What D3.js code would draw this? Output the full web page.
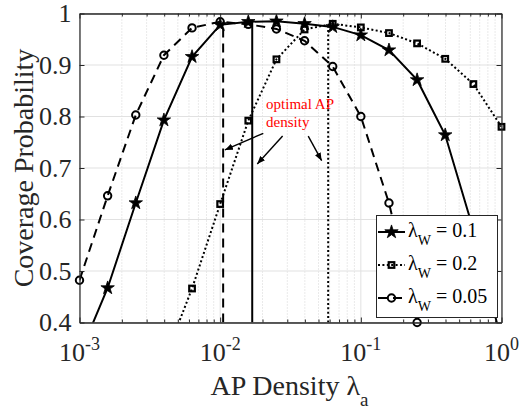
<!DOCTYPE html>
<html><head><meta charset="utf-8">
<script src="https://cdn.jsdelivr.net/npm/d3@7"></script>
<style>
body{margin:0;background:#fff}
svg{display:block}
text{font-family:"Liberation Serif","Times New Roman",serif;}
</style>
</head><body><svg id="c" width="522" height="409"></svg>
<script>
// ---- data ----
const densities = [1e-3, 1.585e-3, 2.512e-3, 3.981e-3, 6.310e-3, 1e-2, 1.585e-2, 2.512e-2, 3.981e-2, 6.310e-2, 0.1, 0.1585, 0.2512, 0.3981, 0.6310, 1];
const covW010 = [0.337, 0.467, 0.632, 0.793, 0.916, 0.978, 0.984, 0.985, 0.980, 0.974, 0.958, 0.929, 0.871, 0.764, 0.580, 0.364];
const covW020 = [null, null, null, 0.325, 0.466, 0.630, 0.792, 0.911, 0.969, 0.980, 0.973, 0.962, 0.942, 0.912, 0.863, 0.780];
const covW005 = [0.482, 0.646, 0.803, 0.919, 0.972, 0.984, 0.979, 0.970, 0.947, 0.897, 0.800, 0.632, 0.400, null, null, null];
const seriesNames = ["0.1", "0.2", "0.05"];
const optimalDensity = [0.0169, 0.0586, 0.0105];
const optimalCoverage = [0.985, 0.980, 0.984];
const xTicks = [1e-3, 1e-2, 1e-1, 1];
const xTickExp = ["-3", "-2", "-1", "0"];
const yTicks = [0.4, 0.5, 0.6, 0.7, 0.8, 0.9, 1];
const yTickLabels = ["0.4", "0.5", "0.6", "0.7", "0.8", "0.9", "1"];
const annotText = ["optimal AP", "density"];
const annotPos = [0.0212, 0.815];
const arrowFrom = [[0.02025, 0.7674], [0.0278, 0.762], [0.04227, 0.762]];
const arrowTo = [[0.01081, 0.735], [0.01835, 0.7078], [0.05266, 0.7142]];

// ---- layout ----
const L = 79.5, R = 501.5, T = 13.5, B = 322.5;
const axisColor = "#262626";
const svg = d3.select("#c");
const x = d3.scaleLog().domain([1e-3, 1]).range([L, R]);
const y = d3.scaleLinear().domain([0.4, 1]).range([B, T]);

const minorX = [];
for (let e = -3; e < 0; e++) for (let m = 2; m <= 9; m++) minorX.push(m * Math.pow(10, e));

// grid
const grid = svg.append("g");
grid.selectAll(".mx").data(minorX).join("line")
  .attr("x1", d => x(d)).attr("x2", d => x(d)).attr("y1", T).attr("y2", B)
  .attr("stroke", "#d4d4d4").attr("stroke-width", 1).attr("stroke-dasharray", "1,2");
grid.selectAll(".gx").data(xTicks).join("line")
  .attr("x1", d => x(d)).attr("x2", d => x(d)).attr("y1", T).attr("y2", B)
  .attr("stroke", "#e1e1e1").attr("stroke-width", 1);
grid.selectAll(".gy").data(yTicks).join("line")
  .attr("x1", L).attr("x2", R).attr("y1", d => y(d)).attr("y2", d => y(d))
  .attr("stroke", "#e1e1e1").attr("stroke-width", 1);

// clip
svg.append("clipPath").attr("id", "clip").append("rect")
  .attr("x", L).attr("y", T).attr("width", R - L).attr("height", B - T);

// arrowhead marker
svg.append("defs").append("marker").attr("id", "ah")
  .attr("viewBox", "0 0 10 10").attr("refX", 10).attr("refY", 5)
  .attr("markerWidth", 8).attr("markerHeight", 8).attr("markerUnits", "userSpaceOnUse")
  .attr("orient", "auto")
  .append("path").attr("d", "M0,1 L10,5 L0,9 z").attr("fill", "#000");

// series definitions
const series = [
  { vals: covW010, dash: null, marker: "star" },
  { vals: covW020, dash: "2,2.4", marker: "square" },
  { vals: covW005, dash: "9,6", marker: "circle" }
];

const plot = svg.append("g").attr("clip-path", "url(#clip)");
// vertical optimal lines
series.forEach((s, i) => {
  plot.append("line")
    .attr("x1", x(optimalDensity[i])).attr("x2", x(optimalDensity[i]))
    .attr("y1", y(0.4)).attr("y2", y(optimalCoverage[i]))
    .attr("stroke", "#000").attr("stroke-width", 2)
    .attr("stroke-dasharray", s.dash);
});

const line = d3.line().defined(d => d[1] != null).x(d => x(d[0])).y(d => y(d[1]));
series.forEach(s => {
  const pts = densities.map((d, i) => [d, s.vals[i]]);
  plot.append("path").attr("d", line(pts)).attr("fill", "none")
    .attr("stroke", "#000").attr("stroke-width", 2)
    .attr("stroke-dasharray", s.dash);
});

function drawMarker(g, type, cx, cy) {
  if (type === "star") {
    g.append("path").attr("d", d3.symbol(d3.symbolStar, 56)())
      .attr("transform", `translate(${cx},${cy})`).attr("fill", "#000").attr("stroke", "#000").attr("stroke-width", 0.8);
  } else if (type === "square") {
    g.append("rect").attr("x", cx - 2.8).attr("y", cy - 2.8).attr("width", 5.6).attr("height", 5.6)
      .attr("fill", "none").attr("stroke", "#000").attr("stroke-width", 2.2);
  } else {
    g.append("circle").attr("cx", cx).attr("cy", cy).attr("r", 3.7)
      .attr("fill", "none").attr("stroke", "#000").attr("stroke-width", 2);
  }
}
const mk = svg.append("g");
series.forEach(s => {
  densities.forEach((d, i) => {
    const v = s.vals[i];
    if (v == null || v < 0.399 || v > 1) return;
    drawMarker(mk, s.marker, x(d), y(v));
  });
});

// axes (inside ticks, box)
function styleAxis(g) {
  g.selectAll("path.domain").attr("stroke", axisColor).attr("stroke-width", 1.2);
  g.selectAll(".tick line").attr("stroke", axisColor).attr("stroke-width", 1);
}
svg.append("g").attr("transform", `translate(0,${B})`)
  .call(d3.axisBottom(x).tickValues(minorX).tickSize(-3).tickSizeOuter(0).tickFormat("")).call(styleAxis);
svg.append("g").attr("transform", `translate(0,${T})`)
  .call(d3.axisTop(x).tickValues(minorX).tickSize(-3).tickSizeOuter(0).tickFormat("")).call(styleAxis);
svg.append("g").attr("transform", `translate(0,${B})`)
  .call(d3.axisBottom(x).tickValues(xTicks).tickSize(-5).tickSizeOuter(0).tickFormat("")).call(styleAxis);
svg.append("g").attr("transform", `translate(0,${T})`)
  .call(d3.axisTop(x).tickValues(xTicks).tickSize(-5).tickSizeOuter(0).tickFormat("")).call(styleAxis);
svg.append("g").attr("transform", `translate(${R},0)`)
  .call(d3.axisRight(y).tickValues(yTicks).tickSize(-5).tickSizeOuter(0).tickFormat("")).call(styleAxis);
const yAx = svg.append("g").attr("transform", `translate(${L},0)`)
  .call(d3.axisLeft(y).tickValues(yTicks).tickSize(-5).tickSizeOuter(0).tickPadding(8)
    .tickFormat((d, i) => yTickLabels[i])).call(styleAxis);
yAx.selectAll("text").attr("font-size", 26).attr("fill", axisColor)
  .attr("font-family", "'Liberation Serif','Times New Roman',serif");

// x tick labels with superscripts
const xl = svg.append("g");
xTicks.forEach((d, i) => {
  const t = xl.append("text").attr("x", x(d)).attr("y", 361).attr("text-anchor", "middle")
    .attr("fill", axisColor).attr("font-size", 26);
  t.append("tspan").text("10");
  t.append("tspan").attr("dy", -11).attr("font-size", 18).text(xTickExp[i]);
});

// axis labels
const xlab = svg.append("text").attr("x", (L + R) / 2 - 1).attr("y", 395).attr("text-anchor", "middle")
  .attr("fill", axisColor).attr("font-size", 28);
xlab.append("tspan").text("AP Density λ");
xlab.append("tspan").attr("dy", 11).attr("font-size", 19).text("a");

svg.append("text").attr("transform", `translate(33,${(T + B) / 2}) rotate(-90)`)
  .attr("text-anchor", "middle").attr("fill", axisColor).attr("font-size", 28)
  .text("Coverage Probability");

// annotation
const at = svg.append("text").attr("x", x(annotPos[0])).attr("y", y(annotPos[1]))
  .attr("fill", "#ff0000").attr("font-size", 15);
at.append("tspan").attr("x", x(annotPos[0])).text(annotText[0]);
at.append("tspan").attr("x", x(annotPos[0])).attr("dy", 18).text(annotText[1]);
arrowFrom.forEach((f, i) => {
  svg.append("line").attr("x1", x(f[0])).attr("y1", y(f[1]))
    .attr("x2", x(arrowTo[i][0])).attr("y2", y(arrowTo[i][1]))
    .attr("stroke", "#000").attr("stroke-width", 1.4).attr("marker-end", "url(#ah)");
});

// legend
const lg = svg.append("g");
lg.append("rect").attr("x", 376.5).attr("y", 215.5).attr("width", 121).attr("height", 102)
  .attr("fill", "#fff").attr("stroke", axisColor).attr("stroke-width", 1);
const legY = [232, 265, 298];
series.forEach((s, i) => {
  const cy = legY[i];
  lg.append("line").attr("x1", 378).attr("x2", 405).attr("y1", cy).attr("y2", cy)
    .attr("stroke", "#000").attr("stroke-width", 2).attr("stroke-dasharray", s.dash);
  drawMarker(lg, s.marker, 391.5, cy);
  const t = lg.append("text").attr("x", 408).attr("y", cy + 5).attr("font-size", 20).attr("fill", "#000");
  t.append("tspan").text("λ");
  t.append("tspan").attr("dy", 8).attr("font-size", 14).text("W");
  t.append("tspan").attr("dy", -8).attr("font-size", 20).text(" = " + seriesNames[i]);
});
</script>
</body></html>
